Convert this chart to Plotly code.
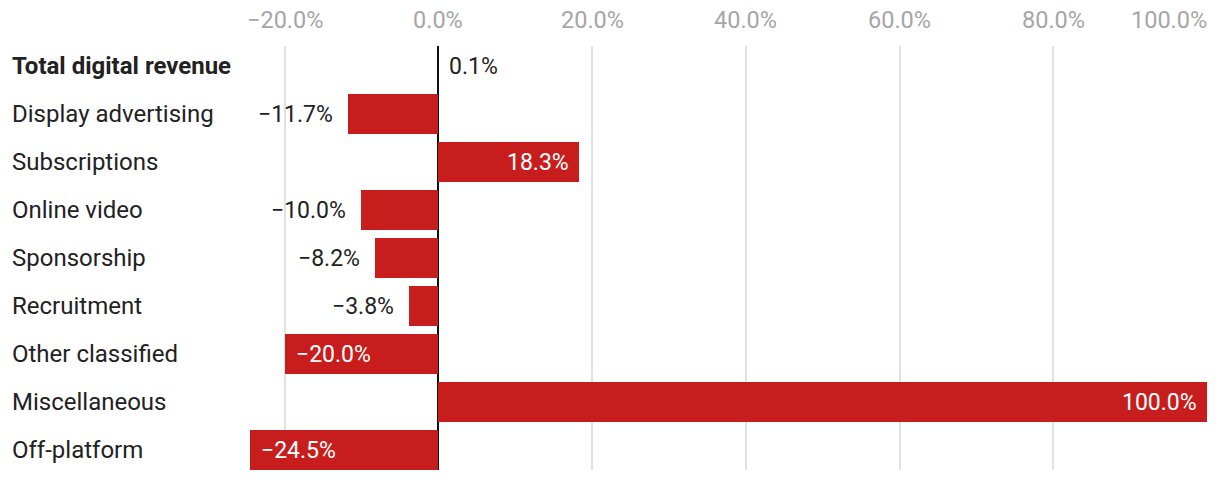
import plotly.graph_objects as go

categories = ["Total digital revenue", "Display advertising", "Subscriptions", "Online video",
              "Sponsorship", "Recruitment", "Other classified", "Miscellaneous", "Off-platform"]
values = [0.1, -11.7, 18.3, -10.0, -8.2, -3.8, -20.0, 100.0, -24.5]
value_labels = ["0.1%", "−11.7%", "18.3%", "−10.0%", "−8.2%", "−3.8%", "−20.0%", "100.0%", "−24.5%"]
inside = [False, False, True, False, False, False, True, True, True]
tick_vals = [-20, 0, 20, 40, 60, 80, 100]
tick_text = ["−20.0%", "0.0%", "20.0%", "40.0%", "60.0%", "80.0%", "100.0%"]

RED = "#c71e1d"
FONT = "Roboto"
FS_CAT = 24
FS_VAL = 23
FS_TICK = 23.5
n = len(categories)
ypos = list(range(n))

fig = go.Figure()
fig.add_trace(go.Bar(
    x=values, y=ypos, orientation="h", width=40 / 48,
    marker=dict(color=[("rgba(0,0,0,0)" if i == 0 else RED) for i in range(n)], line=dict(width=0)),
    hoverinfo="skip",
))

annotations = []
# category labels
for i, c in enumerate(categories):
    annotations.append(dict(
        x=0, xref="paper", xshift=-240, xanchor="left", y=i, yref="y",
        text=(f"<b>{c}</b>" if i == 0 else c), showarrow=False,
        font=dict(family=FONT, size=FS_CAT, color="#222222"),
    ))
# value labels
for i, (v, t, ins) in enumerate(zip(values, value_labels, inside)):
    if ins:
        anchor = "right" if v >= 0 else "left"
        shift = -8 if v >= 0 else 9
        color = "#ffffff"
    else:
        anchor = "left" if v >= 0 else "right"
        shift = 8 if v >= 0 else -13
        color = "#222222"
    annotations.append(dict(
        x=v, xref="x", y=i, yref="y", xanchor=anchor, xshift=shift,
        text=t, showarrow=False, font=dict(family=FONT, size=FS_VAL, color=color),
    ))
# x tick labels on top
for j, (tv, tt) in enumerate(zip(tick_vals, tick_text)):
    last = j == len(tick_vals) - 1
    annotations.append(dict(
        x=tv, xref="x", y=1, yref="paper", yshift=26, yanchor="middle",
        xanchor=("right" if last else "center"), xshift=(2 if last else 0),
        text=tt, showarrow=False, font=dict(family=FONT, size=FS_TICK, color="#a6a6a6"),
    ))

fig.update_layout(
    width=1220, height=480,
    margin=dict(l=250, r=12, t=46, b=10),
    plot_bgcolor="white", paper_bgcolor="white",
    showlegend=False, bargap=0,
    font=dict(family=FONT, size=FS_CAT),
    xaxis=dict(range=[-24.5, 100.1], tickvals=tick_vals, showticklabels=False,
               showgrid=True, gridcolor="#e2e2e2", gridwidth=2,
               zeroline=True, zerolinecolor="#111111", zerolinewidth=2,
               showline=False, fixedrange=True),
    yaxis=dict(range=[n - 1 + 20 / 48, -20 / 48], showticklabels=False, showgrid=False,
               zeroline=False, showline=False, fixedrange=True),
    annotations=annotations,
)

fig.write_html("out.html")
